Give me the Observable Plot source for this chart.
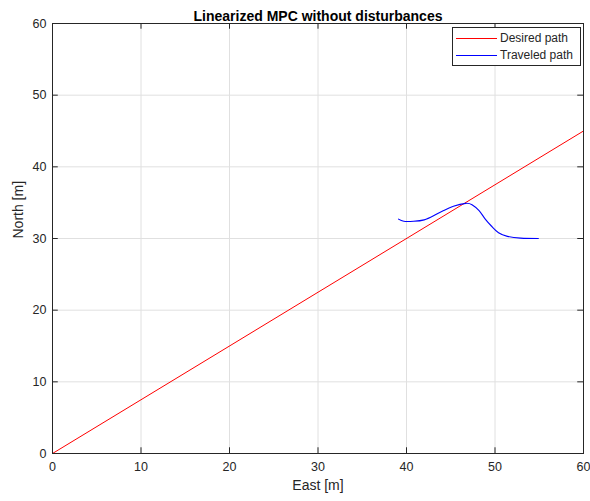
<!DOCTYPE html>
<html><head><meta charset="utf-8">
<script src="https://cdn.jsdelivr.net/npm/d3@7"></script>
<script src="https://cdn.jsdelivr.net/npm/@observablehq/plot@0.6"></script>
<style>
body{margin:0;background:#fff;font-family:"Liberation Sans",Arial,sans-serif;}
#wrap{position:relative;width:590px;height:501px;}
#legend{position:absolute;left:452px;top:27px;width:129px;height:39px;border:1px solid #262626;background:#fff;font-size:12px;color:#262626;box-sizing:border-box;}
.row{position:absolute;left:3px;height:14px;display:flex;align-items:center;}
.sw{width:41px;height:0;border-top:1px solid;margin-right:3px;}
</style></head><body>
<div id="wrap"></div>
<script>
const xTicks = [0, 10, 20, 30, 40, 50, 60];
const yTicks = [0, 10, 20, 30, 40, 50, 60];
const desiredEast = [0, 60];
const desiredNorth = [0, 45];
const travelEast  = [39.1, 39.7, 40.8, 42.0, 43.1, 44.2, 45.3, 46.7, 47.4, 48.2, 48.9, 49.7, 50.4, 51.4, 52.9, 54.9];
const travelNorth = [32.7, 32.4, 32.4, 32.6, 33.2, 33.9, 34.5, 34.9, 34.7, 33.9, 32.7, 31.6, 30.8, 30.3, 30.05, 30.0];
const seriesNames = ["Desired path", "Traveled path"];
const seriesColors = ["#ff0000", "#0000ff"];

const desired = desiredEast.map((e, i) => ({e, n: desiredNorth[i]}));
const traveled = travelEast.map((e, i) => ({e, n: travelNorth[i]}));

const axisColor = "#262626";
const chart = Plot.plot({
  width: 590, height: 501,
  marginTop: 23, marginLeft: 52, marginRight: 7, marginBottom: 48,
  style: {fontFamily: "Liberation Sans, Arial, sans-serif", fontSize: "12.5px", color: axisColor, background: "#fff"},
  x: {domain: [0, 60], ticks: xTicks, label: null},
  y: {domain: [0, 60], ticks: yTicks, label: null},
  marks: [
    Plot.gridX(xTicks, {stroke: "#e0e0e0", strokeOpacity: 1}),
    Plot.gridY(yTicks, {stroke: "#e0e0e0", strokeOpacity: 1}),
    Plot.line(desired, {x: "e", y: "n", stroke: seriesColors[0], strokeWidth: 1}),
    Plot.line(traveled, {x: "e", y: "n", stroke: seriesColors[1], strokeWidth: 1.1, curve: "natural"}),
    // inward ticks
    Plot.ruleX(xTicks, {x: d => d, y1: 0, y2: 0.8, stroke: axisColor}),
    Plot.ruleX(xTicks, {x: d => d, y1: 60, y2: 59.2, stroke: axisColor}),
    Plot.ruleY(yTicks, {y: d => d, x1: 0, x2: 0.65, stroke: axisColor}),
    Plot.ruleY(yTicks, {y: d => d, x1: 60, x2: 59.35, stroke: axisColor}),
    Plot.frame({stroke: axisColor, strokeWidth: 1}),
    Plot.axisX(xTicks, {tickSize: 0, tickPadding: 9, fontSize: 12.5, label: null}),
    Plot.axisY(yTicks, {tickSize: 0, tickPadding: 6, fontSize: 12.5, label: null}),
    Plot.text(["East [m]"], {frameAnchor: "bottom", dy: 36, fontSize: 14, fill: axisColor}),
    Plot.text(["North [m]"], {frameAnchor: "left", dx: -34, rotate: -90, fontSize: 14, fill: axisColor}),
    Plot.text(["Linearized MPC without disturbances"], {frameAnchor: "top", dy: -12, fontSize: 14, fontWeight: "bold", fill: "#000"})
  ]
});
const wrap = document.getElementById("wrap");
wrap.appendChild(chart);
const leg = document.createElement("div");
leg.id = "legend";
seriesNames.forEach((name, i) => {
  const r = document.createElement("div");
  r.className = "row";
  r.style.top = (3 + i * 17) + "px";
  const sw = document.createElement("span");
  sw.className = "sw";
  sw.style.borderTopColor = seriesColors[i];
  const t = document.createElement("span");
  t.textContent = name;
  r.appendChild(sw); r.appendChild(t);
  leg.appendChild(r);
});
wrap.appendChild(leg);
</script>
</body></html>
